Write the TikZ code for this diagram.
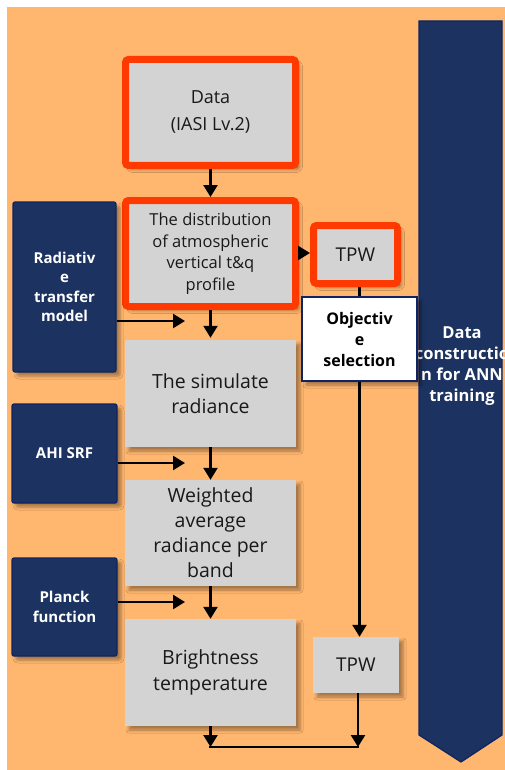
\documentclass[tikz,border=0pt]{standalone}
\usepackage{fontspec}
\setmainfont{Open Sans}
\usetikzlibrary{arrows.meta,shadows.blur}
\definecolor{bgorange}{RGB}{255,182,110}
\definecolor{navy}{RGB}{28,50,96}
\definecolor{navyedge}{RGB}{14,36,100}
\definecolor{boxgray}{RGB}{211,211,211}
\definecolor{hired}{RGB}{255,58,0}
\tikzset{
  softshadow/.style={blur shadow={shadow xshift=4pt,shadow yshift=-4pt,shadow blur radius=3pt,shadow opacity=35}},
  graybox/.style={fill=boxgray,draw=none,align=center,text=black!90,softshadow},
  redbox/.style={graybox,draw=hired,line width=7pt,rounded corners=3pt},
  navybox/.style={fill=navy,draw=navyedge,line width=1.2pt,rounded corners=2pt,align=center,text=white,
    font=\bfseries\fontsize{15}{19.5}\selectfont,softshadow},
  arr/.style={line width=2.4pt,-{Triangle[length=12pt,width=14pt]}},
  plain/.style={line width=2.4pt}
}
\begin{document}
\begin{tikzpicture}[x=1pt,y=-1pt]
\useasboundingbox (0,0) rectangle (505,770);
\fill[white] (0,0) rectangle (505,770);
\fill[bgorange] (7,7) rectangle (505,770);

% long pointer on the right
\filldraw[fill=navy,draw=navyedge,line width=1.2pt]
  (419,21) -- (502,21) -- (502,735) -- (461,762) -- (419,735) -- cycle;
\node[text=white,font=\bfseries\fontsize{16.5}{21}\selectfont,align=center] (ann) at (462,366)
  {Data\\constructio\\n for ANN\\training};

% main column
\node[redbox,minimum width=170,minimum height=106,font=\fontsize{18}{27}\selectfont] (data) at (210.5,112.5)
  {Data\\(IASI Lv.2)};
\node[redbox,minimum width=170,minimum height=106,font=\fontsize{16.5}{21.5}\selectfont] (dist) at (210.5,253.5)
  {The distribution\\of atmospheric\\vertical t\&q\\profile};
\node[graybox,minimum width=171,minimum height=107,font=\fontsize{19.5}{25}\selectfont] (sim) at (210.5,393.5)
  {The simulate\\radiance};
\node[graybox,minimum width=171,minimum height=106,font=\fontsize{19.5}{25}\selectfont] (wgt) at (210.5,533)
  {Weighted\\average\\radiance per\\band};
\node[graybox,minimum width=171,minimum height=107,font=\fontsize{19.5}{26}\selectfont] (bt) at (210.5,672.5)
  {Brightness\\temperature};

% side inputs
\node[navybox,minimum width=103,minimum height=170] (rtm) at (64.5,287)
  {Radiativ\\e\\transfer\\model};
\node[navybox,minimum width=105,minimum height=99] (ahi) at (64.5,453.5) {AHI SRF};
\node[navybox,minimum width=105,minimum height=98] (planck) at (64.5,607) {Planck\\function};

% TPW branch
\node[redbox,minimum width=84,minimum height=58,font=\fontsize{19}{22}\selectfont] (tpw1) at (355.5,254.5) {TPW};
\node[fill=white,draw=navyedge,line width=2pt,minimum width=115,minimum height=84,align=center,
  font=\bfseries\fontsize{16}{21}\selectfont,softshadow] (obj) at (359.5,339)
  {Objectiv\\e\\selection};
\node[graybox,minimum width=86,minimum height=56,font=\fontsize{19}{22}\selectfont] (tpw2) at (356,665) {TPW};

% connectors
\coordinate (rtmend) at (185,321);
\coordinate (ahiend) at (185,463);
\coordinate (plend) at (185,602);
\coordinate (jl) at (210.5,747);
\coordinate (jr) at (358,747);

\draw[arr] (data) -- (dist);
\draw[arr] (dist.south) -- ([yshift=2pt]sim.north);
\draw[arr] (sim) -- (wgt);
\draw[arr] (wgt) -- (bt);
\draw[arr] (dist.east |- 0,253) -- (tpw1.west |- 0,253);
\draw[plain] (obj.north |- tpw1.south) -- (obj.north);
\draw[arr] (obj.south) -- (obj.south |- tpw2.north);
\draw[arr] (rtm.east |- rtmend) -- (rtmend);
\draw[arr] (ahi.east |- ahiend) -- (ahiend);
\draw[arr] (planck.east |- plend) -- (plend);
\draw[arr] (bt.south) -- (jl);
\draw[arr] (tpw2.south -| jr) -- (jr);
\draw[line width=2.4pt,line cap=rect] (jl) -- (jr);
\end{tikzpicture}
\end{document}
